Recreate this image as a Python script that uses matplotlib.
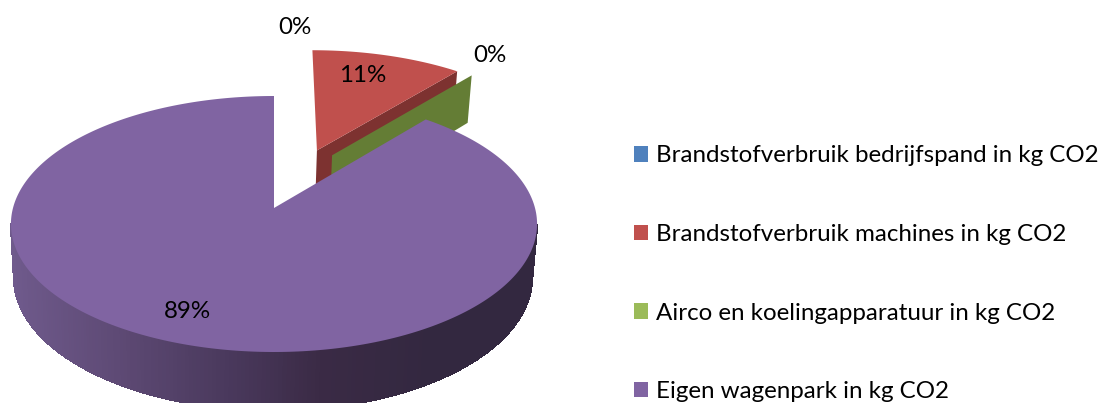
"""
Exploded 3D style pie chart of CO2 sources, drawn with plain matplotlib patches.
"""
import numpy as np
import matplotlib.pyplot as plt
from matplotlib.colors import LinearSegmentedColormap
from matplotlib.patches import Patch, Polygon

names = ['Brandstofverbruik bedrijfspand in kg CO2',
         'Brandstofverbruik machines in kg CO2',
         'Airco en koelingapparatuur in kg CO2',
         'Eigen wagenpark in kg CO2']
values = [0, 11, 0, 89]

top_colors = ['#4F81BD', '#C0504D', '#9BBB59', '#8064A2']
wall_colors = ['#2F4D71', '#7D3230', '#647D35', '#4D3C61']
# slice offset on the pie plane: distance and direction in degrees
explode = [0.5, 0.515, 0.5, 0.0]
explode_dir = [0.0, 19.8, 28.0, 0.0]
label_pos = [(295, 27), (363, 75), (490, 56), (187, 311)]

plt.rcParams['font.family'] = ['Lato', 'DejaVu Sans']
FONT = 17.4


def project(x, y, bottom=False):
    """plane coordinates to picture pixels, with some perspective"""
    den = 1 + 0.125 * y
    if bottom:
        return 273 + 257 * x / den, 260.7 - 131 * y / den
    return 274 + 261 * x / den, 208 - 126 * y / den


def rim(t):
    return np.sin(np.radians(t)), np.cos(np.radians(t))


fig = plt.figure(figsize=(11.13, 4.03), dpi=100)
ax = fig.add_axes([0, 0, 1, 1])
ax.set_xlim(0, 1113)
ax.set_ylim(403, 0)
ax.axis('off')

shade = LinearSegmentedColormap.from_list(
    'wall', ['#6F5A8C', '#5E4A75', '#4B3A5E', '#3A2A45', '#332840', '#332840'])

shares = np.array(values) / sum(values) * 360
starts = np.concatenate([[0], np.cumsum(shares)[:-1]])
ends = starts + shares

# slices 1 and 2 sit behind the big one, each shows only its end wall
for i in [1, 2]:
    ox = explode[i] * np.sin(np.radians(explode_dir[i]))
    oy = explode[i] * np.cos(np.radians(explode_dir[i]))
    rx, ry = rim(ends[i])
    wall = [project(ox, oy), project(ox + rx, oy + ry),
            project(ox + rx, oy + ry, True), project(ox, oy, True)]
    ax.add_patch(Polygon(wall, facecolor=wall_colors[i], edgecolor='none', zorder=2 + i))
    if shares[i] > 0:
        ts = np.linspace(starts[i], ends[i], 60)
        rx, ry = rim(ts)
        outline = [project(ox, oy)] + [project(ox + a, oy + b) for a, b in zip(rx, ry)]
        ax.add_patch(Polygon(outline, facecolor=top_colors[i], edgecolor='none', zorder=2 + i))

# big slice: shaded outer wall (front part only), then the top face
ts = np.linspace(starts[3], ends[3], 400)
rx, ry = rim(ts)
for j in range(len(ts) - 1):
    if ry[j] > -0.12 or ry[j + 1] > -0.12:
        continue
    quad = [project(rx[j], ry[j]), project(rx[j + 1], ry[j + 1]),
            project(rx[j + 1], ry[j + 1], True), project(rx[j], ry[j], True)]
    col = shade(np.clip((project(rx[j], ry[j])[0] - 10) / 527, 0, 1))
    ax.add_patch(Polygon(quad, facecolor=col, edgecolor=col, linewidth=0.8,
                         antialiased=False, zorder=5))
outline = [project(0, 0)] + [project(a, b) for a, b in zip(rx, ry)]
ax.add_patch(Polygon(outline, facecolor=top_colors[3], edgecolor='none', zorder=6))

for v, (lx, ly) in zip(values, label_pos):
    ax.text(lx, ly, '%d%%' % v, ha='center', va='center', fontsize=FONT, color='black', zorder=8)

handles = [Patch(facecolor=c, edgecolor='none', label=n) for c, n in zip(top_colors, names)]
ax.legend(handles=handles, loc='upper left', bbox_to_anchor=(633.5 / 1113, 1 - 145.5 / 403),
          frameon=False, fontsize=FONT, handlelength=0.62, handleheight=0.62,
          handletextpad=0.31, labelspacing=2.38, borderpad=0, borderaxespad=0)

fig.savefig('out.png', dpi=100)
